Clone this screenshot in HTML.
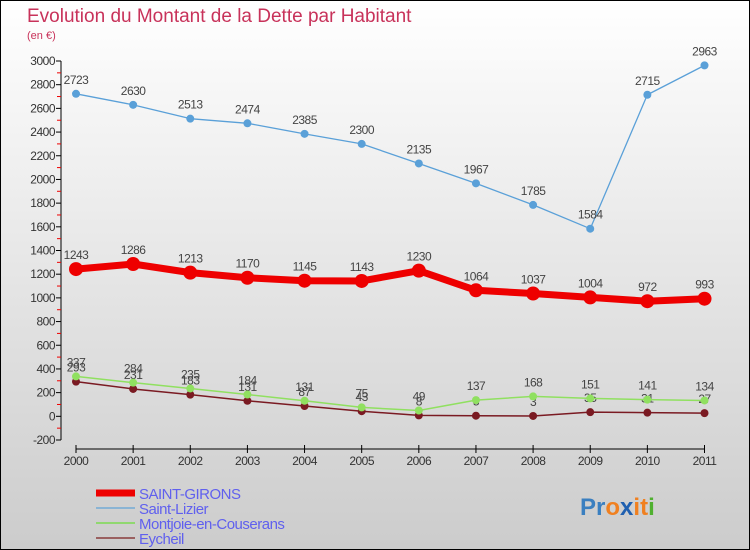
<!DOCTYPE html>
<html><head><meta charset="utf-8"><style>
body{margin:0}
#c{width:748px;height:548px;border:1px solid #000;background:linear-gradient(#fff,#ccc);position:relative;overflow:hidden}
svg{position:absolute;left:-1px;top:-1px;font-family:"Liberation Sans",sans-serif}
</style></head><body>
<div id="c">
<svg id="s" width="750" height="550">
<text x="27" y="22" font-size="19" fill="#c8325a">Evolution du Montant de la Dette par Habitant</text>
<text x="27" y="39" font-size="11" fill="#c8325a">(en €)</text>
</svg></div>
<script>
const years=["2000","2001","2002","2003","2004","2005","2006","2007","2008","2009","2010","2011"];
const yTicks=[-200,0,200,400,600,800,1000,1200,1400,1600,1800,2000,2200,2400,2600,2800,3000];
const saintGirons=[1243,1286,1213,1170,1145,1143,1230,1064,1037,1004,972,993];
const saintLizier=[2723,2630,2513,2474,2385,2300,2135,1967,1785,1584,2715,2963];
const montjoie=[337,284,235,184,131,75,49,137,168,151,141,134];
const eycheil=[293,231,183,131,87,43,8,5,3,35,31,27];
const s=document.getElementById('s');const NS='http://www.w3.org/2000/svg';
function X(i){return 76+i*(704.5-76)/11;}
function Y(v){return 61+(3000-v)*(440-61)/3200;}
function mk(t,a,p){const e=document.createElementNS(NS,t);for(const k in a)e.setAttribute(k,a[k]);(p||s).appendChild(e);return e;}
const ax=mk('g',{});


mk('line',{x1:61,y1:Y(3000),x2:61,y2:Y(-200),stroke:'#000'},ax);
mk('line',{x1:X(0),y1:Y(-200)+9,x2:X(11),y2:Y(-200)+9,stroke:'#000'},ax);
yTicks.forEach((v,i)=>{
 mk('line',{x1:56,y1:Y(v),x2:61,y2:Y(v),stroke:'#000'},ax);
 if(i<yTicks.length-1)mk('line',{x1:57,y1:Y(v+100),x2:61,y2:Y(v+100),stroke:'#e00'},ax);
 const t=mk('text',{x:55,y:Y(v)+4,'font-size':12,fill:'#333','text-anchor':'end','letter-spacing':'-0.5'},ax);t.textContent=v;
 
 
});
years.forEach((yv,i)=>{
 mk('line',{x1:X(i),y1:Y(-200)+5,x2:X(i),y2:Y(-200)+13,stroke:'#000'},ax);
 const t=mk('text',{x:X(i),y:465,'font-size':12,fill:'#333','text-anchor':'middle','letter-spacing':'-0.5'},ax);t.textContent=yv;
 
 
});
function series(data,color,w,r,name,labels){
 const g=mk('g',{});
 
 
 mk('polyline',{points:data.map((v,i)=>X(i)+','+Y(v)).join(' '),fill:'none',stroke:color,'stroke-width':w,'stroke-linejoin':'round'},g);
 data.forEach((v,i)=>{
  const c=mk('circle',{cx:X(i),cy:Y(v),r:r,fill:color},g);
  
  
  if(labels){const t=mk('text',{x:X(i),y:Y(v)-10,'font-size':12,fill:'#444','text-anchor':'middle','letter-spacing':'-0.5'},g);t.textContent=v;
  
  }
 });
}
series(eycheil,'#7a1a22',1.5,4,'eycheil-series',true);
series(montjoie,'#90e060',1.5,4,'montjoie-series',true);
series(saintLizier,'#5aa0d8',1.3,4,'saint-lizier-series',true);
series(saintGirons,'#ee0000',7,7,'saint-girons-series',true);
const leg=[['SAINT-GIRONS','#ee0000',7],['Saint-Lizier','#8ab4d4',2],['Montjoie-en-Couserans','#90d870',2],['Eycheil','#9a6060',2]];
leg.forEach((l,i)=>{
 const g=mk('g',{});
 
 
 const y=493+i*15;
 mk('line',{x1:96,y1:y,x2:135,y2:y,stroke:l[1],'stroke-width':l[2]},g);
 const t=mk('text',{x:139,y:y+6,'font-size':15,fill:'#6060ee','letter-spacing':'-0.5'},g);t.textContent=l[0];
});
const lg=mk('text',{x:580,y:515,'font-size':24,'font-weight':'bold'});


[['P','#3a7fc0'],['r','#3a7fc0'],['o','#f08020'],['x','#2060b0'],['i','#f08020'],['t','#f08020'],['i','#50b030']].forEach(p=>{const ts=mk('tspan',{fill:p[1]},lg);ts.textContent=p[0];});
</script>
</body></html>
